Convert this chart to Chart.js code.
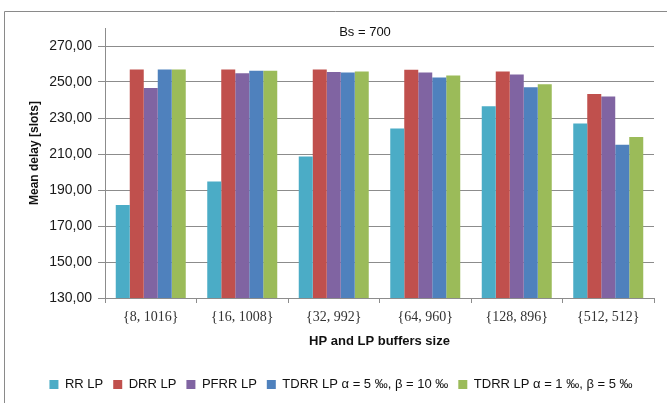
<!DOCTYPE html>
<html>
<head>
<meta charset="utf-8">
<script src="https://cdn.jsdelivr.net/npm/chart.js@4/dist/chart.umd.min.js"></script>
<style>
  html, body { margin: 0; padding: 0; background: #fff; }
  #wrap { position: relative; width: 667px; height: 403px; }
</style>
</head>
<body>
<div id="wrap"><canvas id="c" width="667" height="403"></canvas></div>
<script>
// Buffer size pairs {HP, LP}
const categories = ['{8, 1016}', '{16, 1008}', '{32, 992}', '{64, 960}', '{128, 896}', '{512, 512}'];

// Mean delay [slots] per scheduling scheme
const rrLP     = [181.7, 194.7, 208.6, 224.1, 236.5, 226.9];
const drrLP    = [257.0, 257.0, 257.0, 256.8, 255.9, 243.4];
const pfrrLP   = [246.6, 254.8, 255.5, 255.3, 254.2, 241.9];
const tdrrA5B10 = [257.0, 256.2, 255.3, 252.5, 247.1, 215.2];
const tdrrA1B5  = [257.0, 256.2, 255.9, 253.6, 248.8, 219.4];

const seriesNames = ['RR LP', 'DRR LP', 'PFRR LP',
  'TDRR LP \u03b1 = 5 \u2030, \u03b2 = 10 \u2030',
  'TDRR LP \u03b1 = 1 \u2030, \u03b2 = 5 \u2030'];
const seriesColors = ['#4BACC6', '#C0504D', '#8064A2', '#4F81BD', '#9BBB59'];

const yTicks = [130, 150, 170, 190, 210, 230, 250, 270];
const chartTitle = 'Bs = 700';
const yTitle = 'Mean delay [slots]';

const GRID = '#8c8c8c';

// frame of the chart box, the title over the top of the plot and the value-axis title
const framePlugin = {
  id: 'frame',
  beforeDraw(chart) {
    const ctx = chart.ctx;
    ctx.save();
    ctx.fillStyle = '#fff';
    ctx.fillRect(0, 0, chart.width, chart.height);
    ctx.strokeStyle = '#8a8a8a';
    ctx.lineWidth = 1;
    ctx.beginPath();
    ctx.moveTo(4.5, chart.height);
    ctx.lineTo(4.5, 11.5);
    ctx.lineTo(chart.width, 11.5);
    ctx.stroke();
    ctx.restore();
  },
  afterDraw(chart) {
    const ctx = chart.ctx;
    ctx.save();
    ctx.font = '13px "Liberation Sans", Arial, sans-serif';
    ctx.fillStyle = '#111';
    ctx.textAlign = 'center';
    ctx.textBaseline = 'middle';
    ctx.fillText(chartTitle, 365, 32);
    ctx.translate(35, 153);
    ctx.rotate(-Math.PI / 2);
    ctx.font = 'bold 12px "Liberation Sans", Arial, sans-serif';
    ctx.fillText(yTitle, 0, 0);
    ctx.restore();
  }
};

const datasets = [rrLP, drrLP, pfrrLP, tdrrA5B10, tdrrA1B5].map((vals, i) => ({
  label: seriesNames[i],
  data: vals,
  backgroundColor: seriesColors[i],
  borderWidth: 0,
  categoryPercentage: 0.765,
  barPercentage: 1.0
}));

new Chart(document.getElementById('c'), {
  type: 'bar',
  data: { labels: categories, datasets },
  plugins: [framePlugin],
  options: {
    responsive: false,
    animation: false,
    devicePixelRatio: 1,
    layout: { padding: { left: 28, right: 13, top: 28, bottom: 2 } },
    plugins: {
      title: { display: false },
      tooltip: { enabled: false },
      legend: {
        position: 'bottom',
        labels: {
          boxWidth: 9,
          boxHeight: 9,
          padding: 10,
          color: '#111',
          font: { family: '"Liberation Sans", Arial, sans-serif', size: 13 }
        }
      }
    },
    scales: {
      x: {
        offset: true,
        grid: {
          display: true,
          offset: true,
          drawOnChartArea: false,
          drawTicks: true,
          tickLength: 5,
          color: GRID
        },
        border: { display: true, color: GRID },
        ticks: {
          color: '#333',
          padding: 6,
          maxRotation: 0,
          font: { family: '"Liberation Serif", "Times New Roman", serif', size: 14 }
        },
        title: {
          display: true,
          text: 'HP and LP buffers size',
          color: '#111',
          padding: { top: 4, bottom: 19 },
          font: { family: '"Liberation Sans", Arial, sans-serif', size: 13, weight: 'bold' }
        },
        afterFit(scale) { scale.height = 70; }
      },
      y: {
        min: 130,
        max: 280,
        afterBuildTicks(scale) {
          scale.ticks = yTicks.concat([280]).map(v => ({ value: v }));
        },
        grid: {
          color: ctx => (ctx.tick && ctx.tick.value === 280) ? 'rgba(0,0,0,0)' : GRID,
          tickColor: ctx => (ctx.tick && ctx.tick.value === 280) ? 'rgba(0,0,0,0)' : GRID,
          tickLength: 7,
          drawTicks: true
        },
        border: { display: true, color: GRID },
        ticks: {
          color: '#1a1a1a',
          padding: 6,
          font: { family: '"Liberation Sans", Arial, sans-serif', size: 14 },
          callback: v => (v === 280 ? '' : v.toFixed(2).replace('.', ','))
        },
        title: { display: false },
        afterFit(scale) { scale.width = 77; }
      }
    }
  }
});
</script>
</body>
</html>
